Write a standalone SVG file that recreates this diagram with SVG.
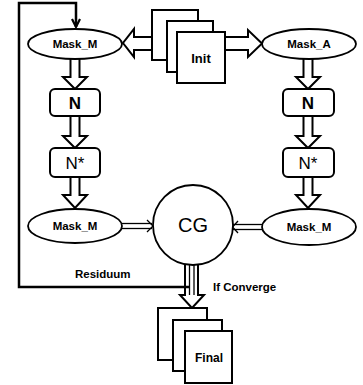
<svg xmlns="http://www.w3.org/2000/svg" width="363" height="385" viewBox="0 0 363 385">
  <defs>
    <style>
      .node { fill: #fff; stroke: #000; stroke-width: 2; }
      .ell { fill: #fff; stroke: #000; stroke-width: 1.8; }
      .page { fill: #fff; stroke: #000; stroke-width: 2; }
      .hollow { fill: #fff; stroke: #000; stroke-width: 2; stroke-linejoin: miter; }
      .thin { fill: none; stroke: #000; stroke-width: 1.3; }
      .loop { fill: none; stroke: #000; stroke-width: 2.5; }
      text { font-family: "Liberation Sans", Arial, sans-serif; fill: #000; }
      .lbl { font-size: 11.5px; font-weight: bold; text-anchor: middle; dominant-baseline: central; }
      .big { font-size: 17px; text-anchor: middle; dominant-baseline: central; }
    </style>
    <marker id="chev" viewBox="0 0 10 10" refX="9" refY="5" markerWidth="4" markerHeight="4" orient="auto" markerUnits="strokeWidth">
      <path d="M1,1 L9,5 L1,9" fill="none" stroke="#000" stroke-width="2.2"/>
    </marker>
  </defs>

  <!-- connectors -->
  <g id="connectors">
    <!-- Init to masks -->
    <polygon class="hollow" points="160,37 134,37 134,29 123,43 134,57 134,50 160,50"/>
    <polygon class="hollow" points="215,37 248,37 248,30 262,43.5 248,57 248,50 215,50"/>

    <!-- left column -->
    <polygon class="hollow" points="70.5,50 70.5,77 63,77 75,89 87,77 79.5,77 79.5,50"/>
    <polygon class="hollow" points="70.5,110 70.5,136 63,136 75,148 87,136 79.5,136 79.5,110"/>
    <polygon class="hollow" points="70.5,170 70.5,195 63,195 75,208 87,195 79.5,195 79.5,170"/>

    <!-- right column -->
    <polygon class="hollow" points="303.5,50 303.5,77 296,77 308,89 320,77 312.5,77 312.5,50"/>
    <polygon class="hollow" points="303.5,110 303.5,136 296,136 308,148 320,136 312.5,136 312.5,110"/>
    <polygon class="hollow" points="303.5,170 303.5,195 296,195 308,208 320,195 312.5,195 312.5,170"/>

    <!-- masks into CG -->
    <line class="thin" x1="120" y1="223.5" x2="152" y2="223.5"/>
    <line class="thin" x1="120" y1="228.5" x2="152" y2="228.5"/>
    <polyline class="thin" points="147,220 153,226 147,232"/>
    <line class="thin" x1="264" y1="224.5" x2="233" y2="224.5"/>
    <line class="thin" x1="264" y1="229.5" x2="233" y2="229.5"/>
    <polyline class="thin" points="238,221 232.5,227 238,233"/>

    <!-- CG to Final -->
    <polygon class="hollow" points="185,255 185,295 180,295 192,308 204,295 198,295 198,255"/>
    <line class="thin" x1="189.5" y1="262" x2="189.5" y2="295"/>
    <line class="thin" x1="194" y1="262" x2="194" y2="295"/>

    <!-- residual feedback loop -->
    <path class="loop" d="M190,287 H19 V3 H76 V27" marker-end="url(#chev)"/>
  </g>

  <!-- Init stack -->
  <g id="init">
    <rect class="page" x="152" y="10" width="46" height="50"/>
    <rect class="page" x="167" y="21" width="46" height="51"/>
    <rect class="page" x="177" y="32" width="48" height="51"/>
    <text class="lbl" x="201" y="58" style="font-size:13px">Init</text>
  </g>

  <g id="mask-m-top">
    <ellipse class="ell" cx="75" cy="44" rx="47" ry="15"/>
    <text class="lbl" x="75" y="44">Mask_M</text>
  </g>
  <g id="mask-a">
    <ellipse class="ell" cx="309" cy="44" rx="47" ry="15"/>
    <text class="lbl" x="309" y="44">Mask_A</text>
  </g>

  <g id="n-left">
    <rect class="node" x="50" y="89" width="50" height="27" rx="5"/>
    <text class="big" x="75" y="103" font-weight="bold">N</text>
  </g>
  <g id="n-right">
    <rect class="node" x="283" y="89" width="51" height="27" rx="5"/>
    <text class="big" x="308" y="103" font-weight="bold">N</text>
  </g>

  <g id="nstar-left">
    <rect class="node" x="50" y="148" width="50" height="29" rx="5"/>
    <text class="big" x="75" y="163">N*</text>
  </g>
  <g id="nstar-right">
    <rect class="node" x="283" y="148" width="51" height="29" rx="5"/>
    <text class="big" x="308" y="163">N*</text>
  </g>

  <g id="mask-m-left">
    <ellipse class="ell" cx="75" cy="226" rx="47" ry="17"/>
    <text class="lbl" x="75" y="226">Mask_M</text>
  </g>
  <g id="mask-m-right">
    <ellipse class="ell" cx="309" cy="227" rx="47" ry="18"/>
    <text class="lbl" x="309" y="227">Mask_M</text>
  </g>

  <g id="cg">
    <circle cx="193" cy="225" r="40" fill="#fff" stroke="#000" stroke-width="1.8"/>
    <text x="193" y="225" style="font-size:20px" text-anchor="middle" dominant-baseline="central">CG</text>
  </g>

  <g id="labels">
    <text x="75" y="274" style="font-size:11.5px;font-weight:bold" dominant-baseline="central">Residuum</text>
    <text x="213" y="287" style="font-size:11.5px;font-weight:bold" dominant-baseline="central">If Converge</text>
  </g>

  <!-- Final stack -->
  <g id="final">
    <rect class="page" x="158" y="308" width="49" height="52"/>
    <rect class="page" x="173" y="320" width="49" height="51"/>
    <rect class="page" x="185" y="331" width="47" height="52"/>
    <text class="lbl" x="209" y="358" style="font-size:12px">Final</text>
  </g>
</svg>
